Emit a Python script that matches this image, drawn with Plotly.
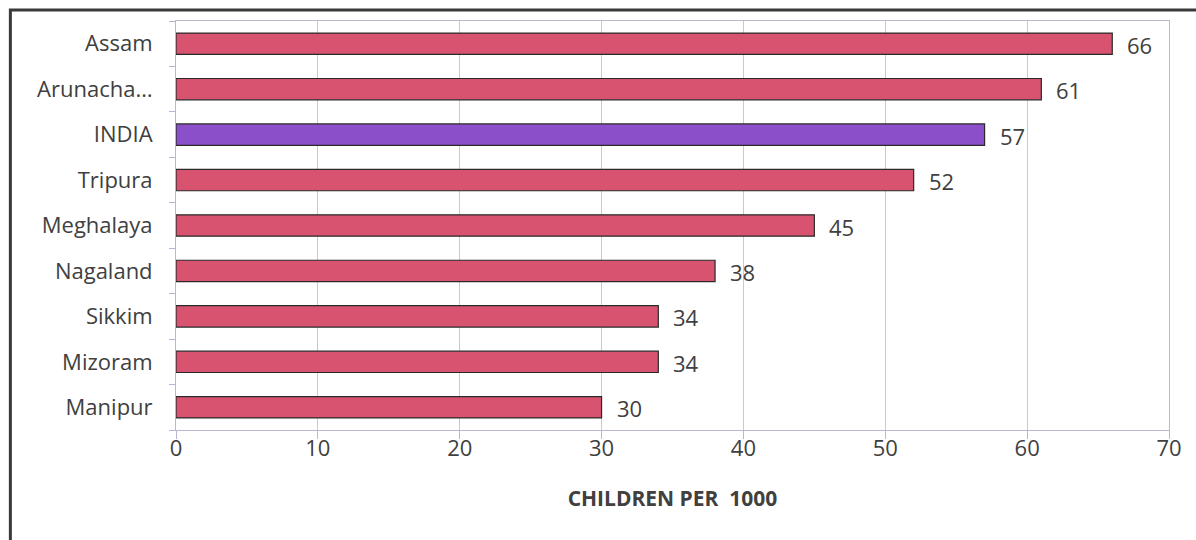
import plotly.graph_objects as go

# Under-five mortality, north-eastern states vs India
states = ["Assam", "Arunacha…", "INDIA", "Tripura", "Meghalaya",
          "Nagaland", "Sikkim", "Mizoram", "Manipur"]
values = [66, 61, 57, 52, 45, 38, 34, 34, 30]
x_ticks = [0, 10, 20, 30, 40, 50, 60, 70]

STATE_COLOR = "#d8536f"
INDIA_COLOR = "#8a4fc9"
TEXT_COLOR = "#404040"
AXIS_COLOR = "#b8b8d0"
FONT = "Open Sans, Noto Sans, sans-serif"

colors = [INDIA_COLOR if s == "INDIA" else STATE_COLOR for s in states]

fig = go.Figure(go.Bar(
    y=states,
    x=values,
    orientation="h",
    marker=dict(color=colors, line=dict(color="#2a2a2a", width=1.2)),
    width=0.47,
    hoverinfo="x+y",
))

# value labels just past each bar end
for s, v in zip(states, values):
    fig.add_annotation(x=v, y=s, text=str(v), showarrow=False,
                       xanchor="left", xshift=13, yshift=-1,
                       font=dict(size=22, color=TEXT_COLOR, family=FONT))

# outer chart frame
fig.add_shape(type="rect", xref="paper", yref="paper",
              x0=-0.1668, x1=1.06, y0=-0.3, y1=1.027,
              line=dict(color="#3a3a3a", width=3), layer="below")

fig.update_layout(
    width=1196, height=540,
    margin=dict(l=176, r=27, t=21, b=110),
    paper_bgcolor="white",
    plot_bgcolor="white",
    showlegend=False,
    font=dict(family=FONT, color=TEXT_COLOR, size=22),
    xaxis=dict(
        range=[0, 70],
        tickvals=x_ticks,
        ticks="outside", ticklen=8, tickcolor=AXIS_COLOR,
        ticklabelstandoff=-9,
        showgrid=True, gridcolor="#c8c8dc", gridwidth=1,
        showline=True, linecolor=AXIS_COLOR, mirror=True,
        zeroline=False,
        tickfont=dict(size=22, color=TEXT_COLOR),
        title=dict(text="<b>CHILDREN PER  1000</b>",
                   font=dict(size=21, color=TEXT_COLOR), standoff=29),
    ),
    yaxis=dict(
        categoryorder="array", categoryarray=states[::-1],
        showline=True, linecolor=AXIS_COLOR, mirror=True,
        showgrid=False,
        ticks="outside", tickson="boundaries", ticklen=6,
        tickcolor=AXIS_COLOR, ticklabelstandoff=18,
        tickfont=dict(size=22, color=TEXT_COLOR),
    ),
)

fig.write_html("out.html")
